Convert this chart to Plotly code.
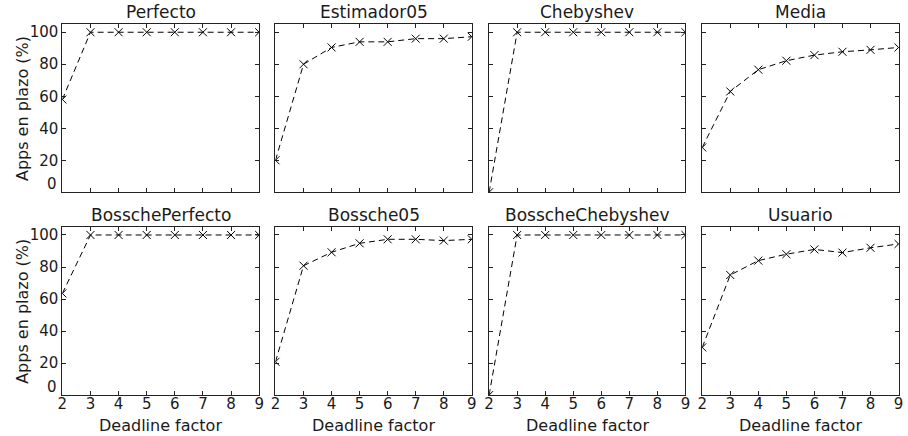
import plotly.graph_objects as go

W, H = 908, 436

factors = [2, 3, 4, 5, 6, 7, 8, 9]

perfecto = [58, 100, 100, 100, 100, 100, 100, 100]
estimador05 = [20, 80, 90.5, 94, 94, 96, 96, 97.2]
chebyshev = [0, 100, 100, 100, 100, 100, 100, 100]
media = [28, 63, 76.6, 82.2, 85.7, 87.8, 89, 90.5]
bossche_perfecto = [63.5, 100, 100, 100, 100, 100, 100, 100]
bossche05 = [20.8, 80.8, 89.2, 94.8, 97.3, 97.3, 96.5, 97.3]
bossche_chebyshev = [0, 100, 100, 100, 100, 100, 100, 100]
usuario = [29.8, 75, 84, 88, 91, 89, 92, 94.4]

titles = ["Perfecto", "Estimador05", "Chebyshev", "Media",
          "BosschePerfecto", "Bossche05", "BosscheChebyshev", "Usuario"]
series = [perfecto, estimador05, chebyshev, media,
          bossche_perfecto, bossche05, bossche_chebyshev, usuario]

y_ticks = [0, 20, 40, 60, 80, 100]
x_label = "Deadline factor"
y_label = "Apps en plazo (%)"

FONT = "DejaVu Sans"

# pixel extents of each panel (left, right) and each row (top, bottom)
col_px = [(58, 257), (273.5, 472), (489.5, 688), (705, 903.5)]
row_px = [(23.3, 191.7), (226.5, 395)]

fig = go.Figure()
annotations = []

for i, (title, vals) in enumerate(zip(titles, series)):
    r, c = divmod(i, 4)
    n = i + 1
    xa = "x" if n == 1 else f"x{n}"
    ya = "y" if n == 1 else f"y{n}"
    fig.add_trace(go.Scatter(
        x=factors, y=vals, mode="lines+markers",
        line=dict(color="black", width=1, dash="6px,4px"),
        marker=dict(symbol="x-thin", size=8, line=dict(color="black", width=1)),
        xaxis=xa, yaxis=ya, showlegend=False, cliponaxis=True,
    ))
    l, rr = col_px[c]
    t, b = row_px[r]
    common = dict(showline=True, linecolor="#222", linewidth=1, mirror="allticks",
                  ticks="inside", ticklen=4, tickcolor="#222", showgrid=False,
                  zeroline=False, tickfont=dict(family=FONT, size=15, color="#1a1a1a"))
    fig.layout[("xaxis" if n == 1 else f"xaxis{n}")] = dict(
        domain=[l / W, rr / W], range=[2, 9], tickvals=factors,
        showticklabels=(r == 1), anchor=ya, ticklabelstandoff=-5, **common)
    fig.layout[("yaxis" if n == 1 else f"yaxis{n}")] = dict(
        domain=[(H - b) / H, (H - t) / H], range=[0, 105], tickvals=y_ticks,
        ticktext=[""] + [str(v) for v in y_ticks[1:]],
        showticklabels=(c == 0), anchor=xa, **common)
    # panel title
    annotations.append(dict(
        text=title, x=(l + rr) / 2 / W, y=(H - t) / H, xref="paper", yref="paper",
        xanchor="center", yanchor="bottom", showarrow=False,
        font=dict(family=FONT, size=17, color="#1a1a1a")))
    if c == 0:
        # the "0" label sits slightly above its tick
        annotations.append(dict(
            text="0", x=0, y=0, xref=f"{xa} domain", yref=ya,
            xanchor="right", yanchor="middle", xshift=-3, yshift=8, showarrow=False,
            font=dict(family=FONT, size=15, color="#1a1a1a")))
        annotations.append(dict(
            text=y_label, x=17 / W, y=(H - (t + b) / 2) / H, xref="paper", yref="paper",
            textangle=-90, xanchor="center", yanchor="middle", showarrow=False,
            font=dict(family=FONT, size=16, color="#1a1a1a")))
    if r == 1:
        annotations.append(dict(
            text=x_label, x=(l + rr) / 2 / W, y=(H - 425) / H, xref="paper", yref="paper",
            xanchor="center", yanchor="middle", showarrow=False,
            font=dict(family=FONT, size=16, color="#1a1a1a")))

fig.update_layout(
    width=W, height=H, margin=dict(l=0, r=0, t=0, b=0),
    paper_bgcolor="white", plot_bgcolor="white",
    annotations=annotations,
)

fig.write_html("out.html")
